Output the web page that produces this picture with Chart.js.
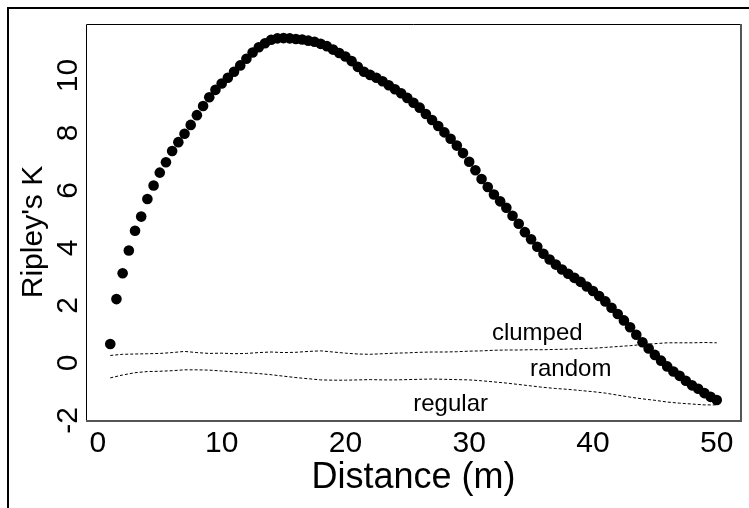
<!DOCTYPE html>
<html><head><meta charset="utf-8">
<script src="https://cdn.jsdelivr.net/npm/chart.js@4.4.1/dist/chart.umd.min.js"></script>
<style>html,body{margin:0;padding:0;background:#fff;}#wrap{width:749px;height:508px;}</style>
</head><body><div id="wrap"><canvas id="c" width="749" height="508"></canvas></div>
<script>
const distances = [1,1.5,2,2.5,3,3.5,4,4.5,5,5.5,6,6.5,7,7.5,8,8.5,9,9.5,10,10.5,11,11.5,12,12.5,13,13.5,14,14.5,15,15.5,16,16.5,17,17.5,18,18.5,19,19.5,20,20.5,21,21.5,22,22.5,23,23.5,24,24.5,25,25.5,26,26.5,27,27.5,28,28.5,29,29.5,30,30.5,31,31.5,32,32.5,33,33.5,34,34.5,35,35.5,36,36.5,37,37.5,38,38.5,39,39.5,40,40.5,41,41.5,42,42.5,43,43.5,44,44.5,45,45.5,46,46.5,47,47.5,48,48.5,49,49.5,50];
const ripleyK = [0.66,2.22,3.12,3.91,4.60,5.09,5.70,6.17,6.62,6.98,7.37,7.68,7.97,8.28,8.62,8.94,9.24,9.50,9.72,9.92,10.13,10.35,10.58,10.80,10.98,11.12,11.24,11.29,11.30,11.29,11.27,11.25,11.21,11.17,11.10,11.02,10.90,10.78,10.66,10.50,10.30,10.13,10.02,9.92,9.80,9.66,9.52,9.38,9.22,9.05,8.88,8.66,8.45,8.24,8.02,7.80,7.56,7.30,7.00,6.70,6.40,6.12,5.86,5.62,5.40,5.12,4.84,4.55,4.30,4.04,3.80,3.60,3.42,3.25,3.10,2.96,2.82,2.66,2.50,2.33,2.14,1.92,1.70,1.48,1.24,0.98,0.72,0.50,0.28,0.08,-0.12,-0.30,-0.45,-0.62,-0.78,-0.90,-1.05,-1.18,-1.29];
const envelopeDistances = [1,2,3,4,5,6,7,8,9,10,11,12,13,14,15,16,17,18,19,20,21,22,23,24,25,26,27,28,29,30,31,32,33,34,35,36,37,38,39,40,41,42,43,44,45,46,47,48,49,50];
const clumpedEnvelope = [0.26,0.30,0.31,0.32,0.33,0.36,0.40,0.36,0.33,0.34,0.32,0.33,0.36,0.38,0.36,0.37,0.40,0.42,0.38,0.34,0.31,0.30,0.32,0.34,0.35,0.37,0.38,0.38,0.39,0.41,0.42,0.44,0.45,0.45,0.46,0.46,0.47,0.48,0.50,0.51,0.54,0.57,0.60,0.64,0.67,0.70,0.70,0.70,0.71,0.70];
const regularEnvelope = [-0.52,-0.42,-0.34,-0.30,-0.29,-0.27,-0.24,-0.24,-0.25,-0.28,-0.31,-0.34,-0.37,-0.41,-0.46,-0.51,-0.55,-0.59,-0.60,-0.60,-0.59,-0.58,-0.59,-0.59,-0.58,-0.57,-0.56,-0.57,-0.58,-0.59,-0.62,-0.66,-0.70,-0.75,-0.80,-0.85,-0.89,-0.92,-0.96,-1.00,-1.05,-1.12,-1.19,-1.25,-1.30,-1.36,-1.40,-1.43,-1.46,-1.46];
const xTicks = [0,10,20,30,40,50];
const yTicks = [-2,0,2,4,6,8,10];
const xTitle = 'Distance (m)';
const yTitle = "Ripley's K";
const regionLabels = ['clumped','random','regular'];
const regionLabelX = [35.5,38.2,28.5];
const regionLabelY = [1.04,-0.24,-1.45];

const FONT = "'Liberation Sans', Arial, Helvetica, sans-serif";

const framePlugin = {
  id: 'frame',
  afterDraw(chart) {
    const {ctx, chartArea: a} = chart;
    ctx.save();
    ctx.strokeStyle = '#000';
    ctx.lineWidth = 2;
    ctx.beginPath();
    ctx.moveTo(8, 508); ctx.lineTo(8, 8); ctx.lineTo(749, 8);
    ctx.stroke();
    ctx.lineWidth = 1;
    ctx.strokeStyle = '#000';
    ctx.beginPath();
    ctx.moveTo(a.left + 0.5, a.bottom); ctx.lineTo(a.left + 0.5, a.top + 0.5); ctx.lineTo(a.right, a.top + 0.5);
    ctx.stroke();
    ctx.lineWidth = 2;
    ctx.strokeStyle = '#555';
    ctx.beginPath();
    ctx.moveTo(a.right, a.top); ctx.lineTo(a.right, a.bottom); ctx.lineTo(a.left, a.bottom);
    ctx.stroke();
    const xs = chart.scales.x, ys = chart.scales.y;
    ctx.fillStyle = '#000';
    ctx.font = '24px ' + FONT;
    ctx.textAlign = 'center';
    ctx.textBaseline = 'middle';
    regionLabels.forEach((t, i) => {
      ctx.fillText(t, xs.getPixelForValue(regionLabelX[i]), ys.getPixelForValue(regionLabelY[i]));
    });
    // y axis title
    ctx.font = '30px ' + FONT;
    ctx.translate(33.5, (a.top + a.bottom) / 2 + 9.5);
    ctx.rotate(-Math.PI / 2);
    ctx.fillText(yTitle, 0, 0);
    ctx.restore();
  }
};

new Chart(document.getElementById('c'), {
  type: 'scatter',
  data: {
    datasets: [
      {
        label: "Ripley's K",
        data: distances.map((d, i) => ({x: d, y: ripleyK[i]})),
        pointRadius: 5.3,
        pointBackgroundColor: '#000',
        pointBorderColor: '#000',
        pointBorderWidth: 0,
        showLine: false
      },
      {
        label: 'clumped',
        data: envelopeDistances.map((d, i) => ({x: d, y: clumpedEnvelope[i]})),
        showLine: true,
        borderColor: '#000',
        borderWidth: 1,
        borderDash: [3, 2],
        pointRadius: 0,
        tension: 0
      },
      {
        label: 'regular',
        data: envelopeDistances.map((d, i) => ({x: d, y: regularEnvelope[i]})),
        showLine: true,
        borderColor: '#000',
        borderWidth: 1,
        borderDash: [3, 2],
        pointRadius: 0,
        tension: 0
      }
    ]
  },
  options: {
    responsive: false,
    animation: false,
    devicePixelRatio: 1,
    layout: {padding: {left: 0, right: 8, top: 24, bottom: 0}},
    plugins: {legend: {display: false}, tooltip: {enabled: false}},
    scales: {
      x: {
        type: 'linear', min: -0.96, max: 51.96,
        afterBuildTicks: s => { s.ticks = xTicks.map(v => ({value: v})); },
        afterFit: s => { s.height = 87; },
        grid: {display: false, drawTicks: false},
        border: {display: false},
        ticks: {font: {family: FONT, size: 30}, color: '#000', padding: 5, maxRotation: 0, autoSkip: false},
        title: {display: true, text: xTitle, font: {family: FONT, size: 36}, color: '#000', padding: {top: 0, bottom: 8}}
      },
      y: {
        type: 'linear', min: -2.02, max: 11.79,
        afterBuildTicks: s => { s.ticks = yTicks.map(v => ({value: v})); },
        afterFit: s => { s.width = 86; },
        grid: {display: false, drawTicks: false},
        border: {display: false},
        ticks: {font: {family: FONT, size: 30}, color: '#000', padding: 1, minRotation: 90, maxRotation: 90, crossAlign: 'center', autoSkip: false},
        title: {display: false, text: yTitle}
      }
    }
  },
  plugins: [framePlugin]
});
</script>
</body></html>
